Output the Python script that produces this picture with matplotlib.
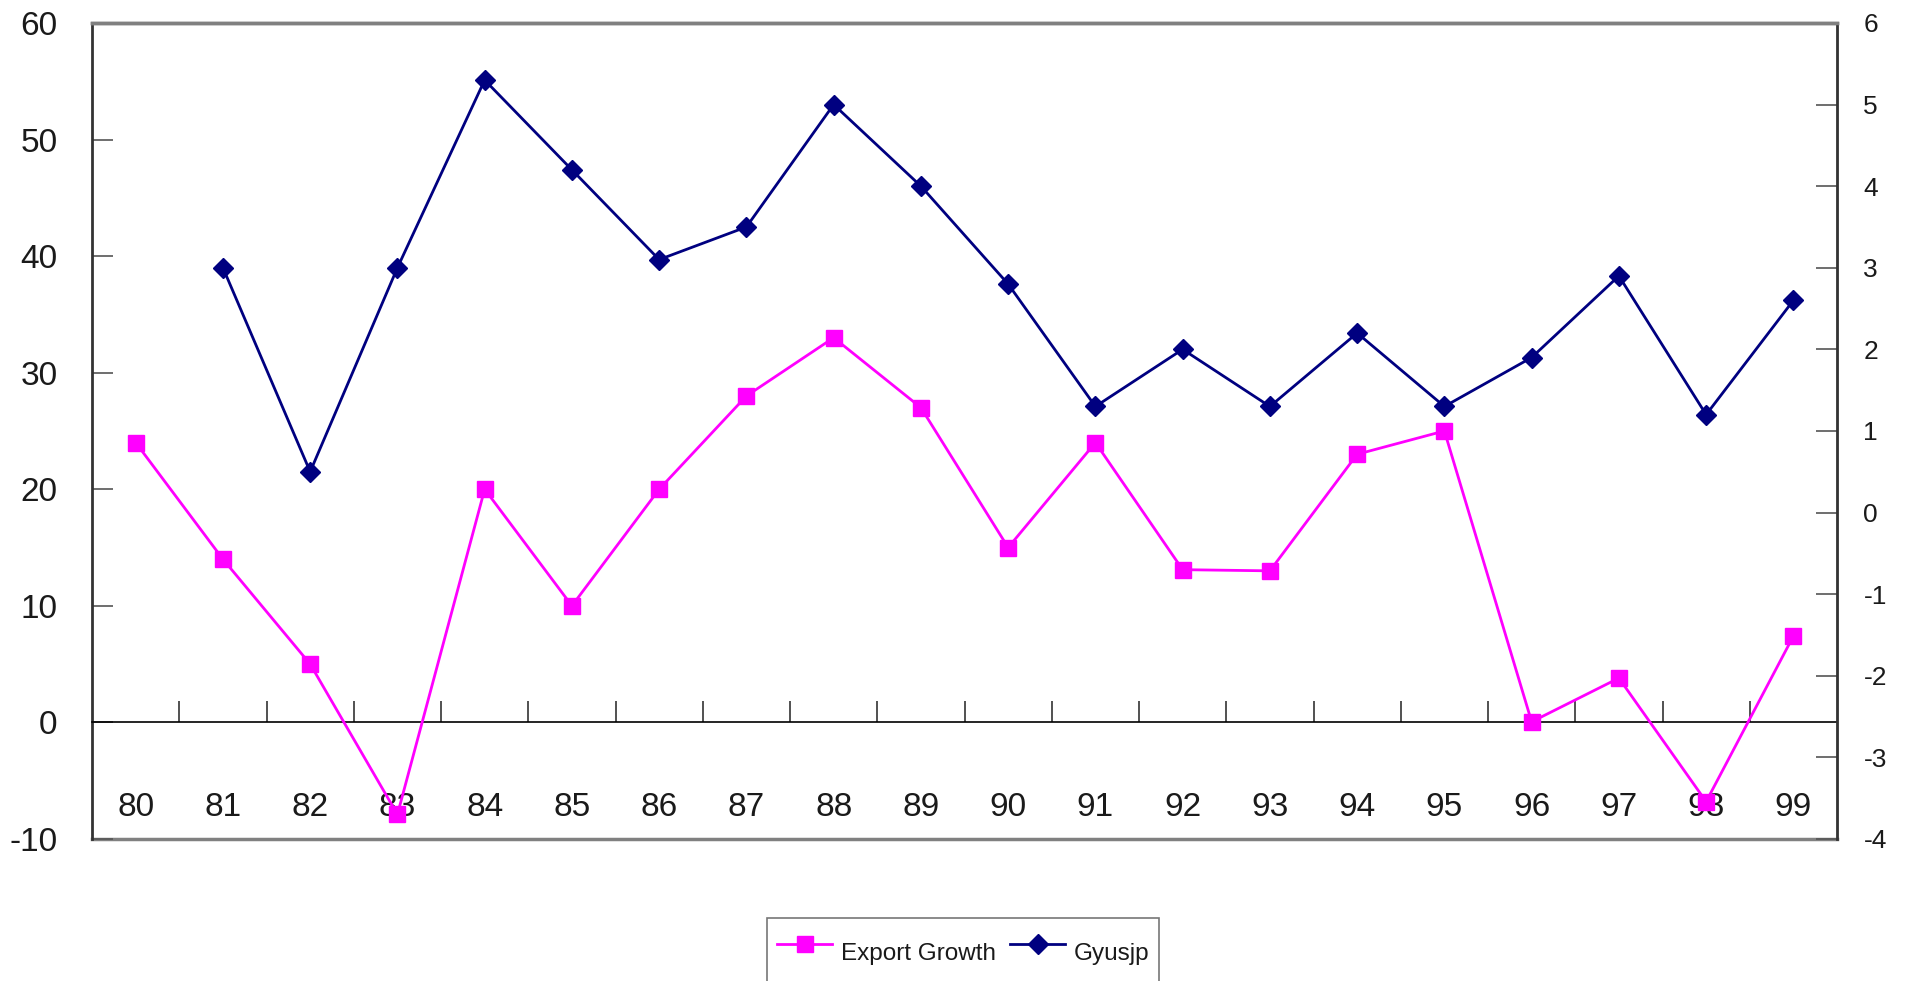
import matplotlib
matplotlib.use('Agg')
import matplotlib.pyplot as plt
from matplotlib.ticker import FixedLocator

plt.rcParams['font.family'] = ['Liberation Sans', 'DejaVu Sans']
plt.rcParams['axes.unicode_minus'] = False

# data
years = ['80', '81', '82', '83', '84', '85', '86', '87', '88', '89',
         '90', '91', '92', '93', '94', '95', '96', '97', '98', '99']
export_growth = [24, 14, 5, -7.9, 20, 10, 20, 28, 33, 27,
                 15, 24, 13.1, 13, 23, 25, 0.05, 3.8, -6.8, 7.4]
gyusjp_years = years[1:]
gyusjp = [3.0, 0.5, 3.0, 5.3, 4.2, 3.1, 3.5, 5.0, 4.0,
          2.8, 1.3, 2.0, 1.3, 2.2, 1.3, 1.9, 2.9, 1.2, 2.6]

pink = '#ff00ff'
navy = '#000080'
txt = '#1a1a1a'

fig = plt.figure(figsize=(19.06, 9.81), dpi=100)
ax = fig.add_axes([0.0483, 0.1448, 0.9155, 0.8318])
ax2 = ax.twinx()

x = list(range(len(years)))
x2 = [years.index(y) for y in gyusjp_years]

l1, = ax.plot(x, export_growth, color=pink, lw=2, marker='s', ms=11,
              label='Export Growth', zorder=3)
l2, = ax2.plot(x2, gyusjp, color=navy, lw=2, marker='D', ms=10.5,
               label='Gyusjp', zorder=3)

ax.set_xlim(-0.5, len(years) - 0.5)
ax.set_ylim(-10, 60)
ax2.set_ylim(-4, 6)
ax.set_yticks(range(-10, 61, 10))
ax2.set_yticks(range(-4, 7, 1))

# category axis sitting on the zero line
ax.spines['bottom'].set_position(('data', 0))
ax.spines['bottom'].set_color('black')
ax.spines['bottom'].set_linewidth(1.2)
ax.set_xticks(x)
ax.set_xticklabels(years)
ax.xaxis.set_minor_locator(FixedLocator([i + 0.5 for i in x[:-1]]))
ax.tick_params(axis='x', which='major', length=0, pad=50, labelsize=24, labelcolor=txt)
ax.tick_params(axis='x', which='minor', direction='in', length=15, width=1.2, color='#333333')

# frame
ax.axhline(-10, color='#808080', lw=2.5, clip_on=False, zorder=1)
for a in (ax, ax2):
    a.spines['top'].set_color('#808080')
    a.spines['top'].set_linewidth(2.5)
ax2.spines['bottom'].set_visible(False)
ax.spines['left'].set_color('#333333')
ax.spines['left'].set_linewidth(2)
ax2.spines['right'].set_color('#333333')
ax2.spines['right'].set_linewidth(2)
ax2.spines['left'].set_visible(False)

ax.tick_params(axis='y', direction='in', length=15, width=1.2, color='#555555',
               labelsize=24, labelcolor=txt, pad=25)
ax2.tick_params(axis='y', direction='in', length=15, width=1.2, color='#555555',
                labelsize=19, labelcolor=txt, pad=19)

leg = fig.legend(handles=[l1, l2], loc='upper center', bbox_to_anchor=(0.5055, 0.0642),
                 ncol=2, fontsize=17.5, frameon=True, fancybox=False, borderpad=0.4,
                 borderaxespad=0, handlelength=2.25, handleheight=2.8,
                 columnspacing=0.6, handletextpad=0.37)
leg.get_frame().set_edgecolor('#555555')
leg.get_frame().set_linewidth(1.2)
for t in leg.get_texts():
    t.set_color(txt)

fig.savefig('out.png', dpi=100)
